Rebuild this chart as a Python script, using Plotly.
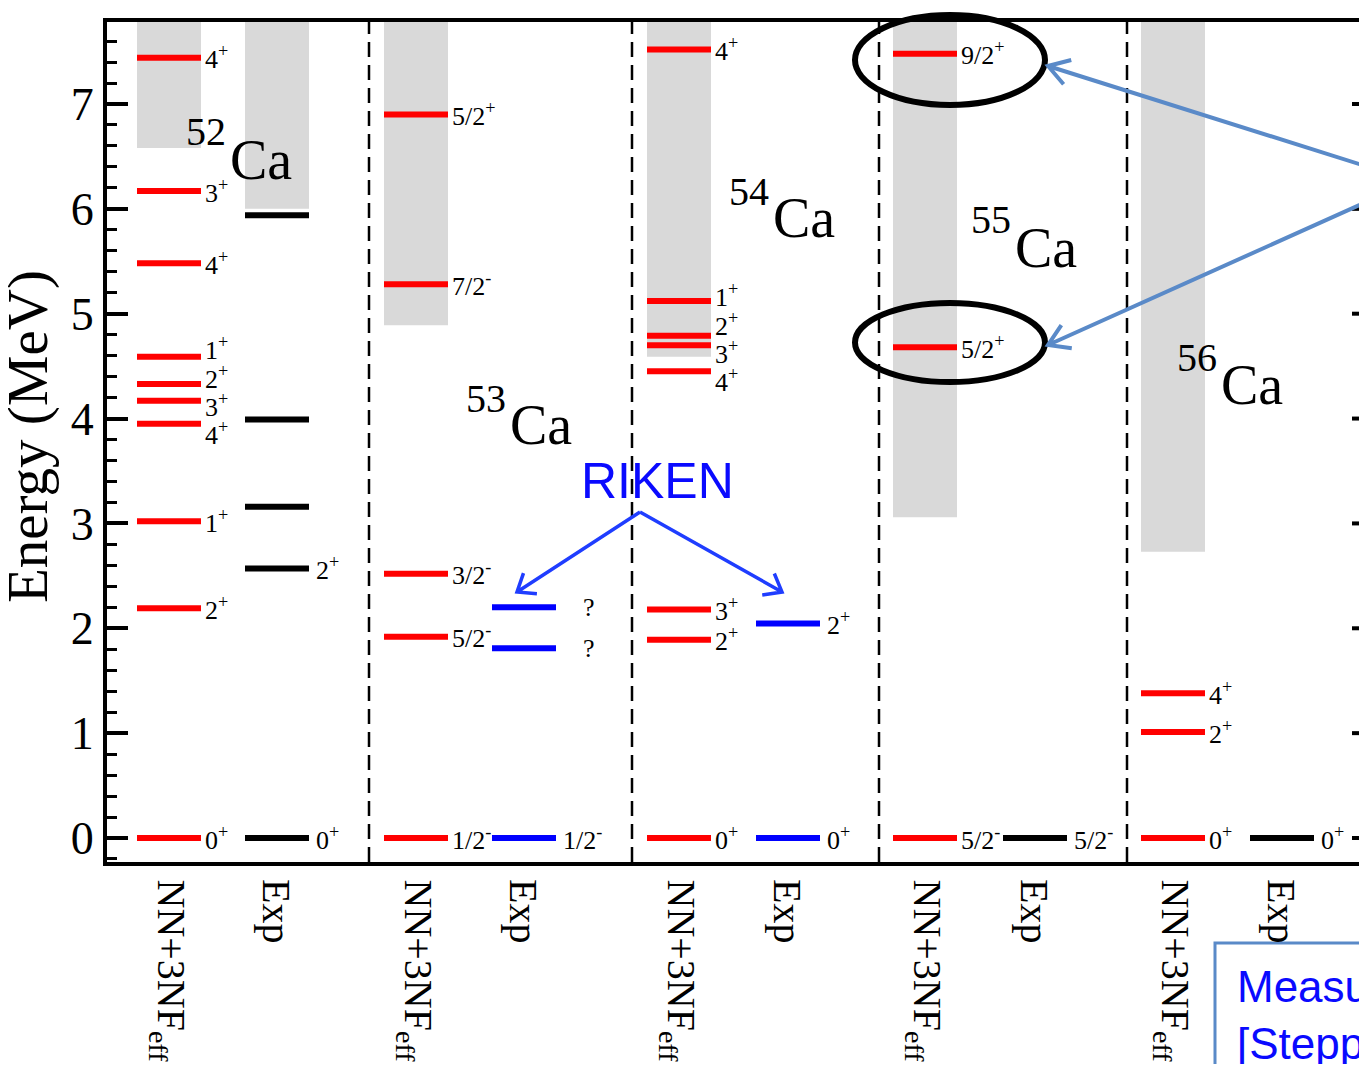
import math
import plotly.graph_objects as go

# ---------------- data (energies in MeV) ----------------
nuclei_A = [52, 53, 54, 55, 56]

th52_E = [0.0, 2.19, 3.02, 3.95, 4.17, 4.33, 4.59, 5.48, 6.17, 7.44]
th52_J = ["0+", "2+", "1+", "4+", "3+", "2+", "1+", "4+", "3+", "4+"]
ex52_E = [0.0, 2.57, 3.16, 3.99, 5.94]
ex52_J = ["0+", "2+", "", "", ""]

th53_E = [0.0, 1.92, 2.52, 5.28, 6.90]
th53_J = ["1/2-", "5/2-", "3/2-", "7/2-", "5/2+"]
ex53_E = [0.0, 1.81, 2.20]
ex53_J = ["1/2-", "?", "?"]

th54_E = [0.0, 1.89, 2.18, 4.45, 4.70, 4.79, 5.12, 7.52]
th54_J = ["0+", "2+", "3+", "4+", "3+", "2+", "1+", "4+"]
ex54_E = [0.0, 2.045]
ex54_J = ["0+", "2+"]

th55_E = [0.0, 4.68, 7.48]
th55_J = ["5/2-", "5/2+", "9/2+"]
ex55_E = [0.0]
ex55_J = ["5/2-"]

th56_E = [0.0, 1.01, 1.38]
th56_J = ["0+", "2+", "4+"]
ex56_E = [0.0]
ex56_J = ["0+"]

continuum_th = [6.58, 4.89, 4.59, 3.06, 2.73]
continuum_exp = [6.00, None, None, None, None]

column_labels = ["NN+3NF<sub>eff</sub>", "Exp"]
y_tick_vals = [0, 1, 2, 3, 4, 5, 6, 7]

theory_sets = [(th52_E, th52_J), (th53_E, th53_J), (th54_E, th54_J), (th55_E, th55_J), (th56_E, th56_J)]
exp_sets = [(ex52_E, ex52_J), (ex53_E, ex53_J), (ex54_E, ex54_J), (ex55_E, ex55_J), (ex56_E, ex56_J)]

# ---------------- layout constants (reference-pixel geometry) ----------------
OFF = 8                      # default body margin of the html page
W, H = 1351, 1056
PL, PT, PR, PB = 107, 22, 1359, 862
Y0_PX, PX_PER_MEV = 838, 104.86


def E_of(py):
    return (Y0_PX - py) / PX_PER_MEV


def paper_x(px):
    return (px - PL) / (PR - PL)


def paper_y(py):
    return (PB - py) / (PB - PT)


COL_W = 64
TH_LEFT = [137, 384, 647, 893, 1141]
EX_LEFT = [245, 492, 756, 1003, 1250]
SEPARATORS = [369, 632, 879, 1127]
TH_COLOR = "#ff0000"
EX_COLORS = ["black", "#0000ff", "#0000ff", "black", "black"]
SERIF = "Liberation Serif, Times New Roman, serif"
SANS = "Liberation Sans, Arial, sans-serif"
BLUE_TXT = "#0a0aff"
STEEL = "#5a8ac8"

fig = go.Figure()
shapes = []
annotations = []


def spread(values, min_gap):
    """place label positions so they do not overlap"""
    order = sorted(range(len(values)), key=lambda i: values[i])
    pos = [values[i] for i in order]
    for _ in range(300):
        moved = False
        for k in range(len(pos) - 1):
            g = pos[k + 1] - pos[k]
            if g < min_gap - 1e-9:
                d = (min_gap - g) / 2
                pos[k] -= d
                pos[k + 1] += d
                moved = True
        if not moved:
            break
    out = [0] * len(values)
    for k, i in enumerate(order):
        out[i] = pos[k]
    return out


def fmt_j(j):
    if j in ("", "?"):
        return j
    return j[:-1] + "<sup>" + j[-1] + "</sup>"


def add_column(left, energies, spins, color, gap, name):
    xs, ys = [], []
    for e in energies:
        xs += [left, left + COL_W, None]
        ys += [e, e, None]
    fig.add_trace(go.Scatter(x=xs, y=ys, mode="lines", line=dict(color=color, width=6),
                             hoverinfo="skip", showlegend=False, name=name))
    lab_y = spread(energies, 0.27)
    for e, j, ly in zip(energies, spins, lab_y):
        if not j:
            continue
        annotations.append(dict(x=left + COL_W, y=ly, xref="x", yref="y", text=fmt_j(j),
                                showarrow=False, xanchor="left", yanchor="middle",
                                xshift=gap + (20 if j == "?" else 0), borderpad=0,
                                font=dict(family=SERIF, size=26, color="black")))


for i, A in enumerate(nuclei_A):
    tl, el = TH_LEFT[i], EX_LEFT[i]
    # continuum bands
    shapes.append(dict(type="rect", xref="x", yref="y", x0=tl, x1=tl + COL_W,
                       y0=continuum_th[i], y1=9, fillcolor="#d9d9d9", line=dict(width=0), layer="below"))
    if continuum_exp[i] is not None:
        shapes.append(dict(type="rect", xref="x", yref="y", x0=el, x1=el + COL_W,
                           y0=continuum_exp[i], y1=9, fillcolor="#d9d9d9", line=dict(width=0), layer="below"))
    th_E, th_J = theory_sets[i]
    ex_E, ex_J = exp_sets[i]
    add_column(tl, th_E, th_J, TH_COLOR, 3, f"{A}Ca NN+3NF")
    add_column(el, ex_E, ex_J, EX_COLORS[i], 6, f"{A}Ca Exp")
    # column labels under the axis
    for left, lab in zip([tl, el], column_labels):
        annotations.append(dict(x=left + COL_W / 2, y=paper_y(877), xref="x", yref="paper",
                                text=lab, textangle=90, showarrow=False,
                                xanchor="center", yanchor="top",
                                font=dict(family=SERIF, size=40, color="black")))

# nucleus names: (junction x, mass y, symbol y) in reference px
name_pos = [(228, 131, 160), (508, 398, 425), (771, 191, 218), (1013, 219, 248), (1219, 357, 385)]
for A, (jx, my, cy) in zip(nuclei_A, name_pos):
    annotations.append(dict(x=jx, y=E_of(my), xref="x", yref="y", text=str(A), showarrow=False,
                            xanchor="right", yanchor="middle", font=dict(family=SERIF, size=40, color="black")))
    annotations.append(dict(x=jx, y=E_of(cy), xref="x", yref="y", text="Ca", showarrow=False,
                            xanchor="left", yanchor="middle", font=dict(family=SERIF, size=56, color="black")))

# dashed separators
for sx in SEPARATORS:
    shapes.append(dict(type="line", xref="x", yref="paper", x0=sx, x1=sx, y0=0, y1=1,
                       line=dict(color="black", width=2.5, dash="15px,8px")))

# right-hand inward ticks
for k in range(-1, 40):
    v = round(k * 0.2, 2)
    if v < E_of(PB) or v > E_of(PT):
        continue
    major = abs(v - round(v)) < 1e-6
    shapes.append(dict(type="line", xref="paper", yref="y",
                       x0=paper_x(1352 if major else 1362), x1=paper_x(1375), y0=v, y1=v,
                       line=dict(color="black", width=4 if major else 3)))


def arrow_path(x0, y0, x1, y1, head=20, ang=35):
    a = math.atan2(y0 - y1, x0 - x1)
    pts = []
    for s in (1, -1):
        t = a + s * math.radians(ang)
        pts.append((x1 + head * math.cos(t), y1 + head * math.sin(t)))
    f = lambda x, y: f"{paper_x(x):.5f},{paper_y(y):.5f}"
    return (f"M{f(x0, y0)} L{f(x1, y1)} M{f(*pts[0])} L{f(x1, y1)} L{f(*pts[1])}")


# RIKEN annotation and arrows
annotations.append(dict(x=paper_x(657), y=paper_y(481), xref="paper", yref="paper", text="RIKEN",
                        showarrow=False, xanchor="center", yanchor="middle",
                        font=dict(family=SANS, size=50, color=BLUE_TXT)))
for tip in [(517, 592), (782, 592)]:
    shapes.append(dict(type="path", xref="paper", yref="paper", path=arrow_path(640, 512, *tip, head=20, ang=38),
                       line=dict(color="#1f3dff", width=3.5)))

# ellipses around the 55Ca levels
for (x0, x1, y0, y1) in [(855, 1045, 15, 105), (855, 1045, 303, 382)]:
    shapes.append(dict(type="circle", xref="paper", yref="paper", x0=paper_x(x0), x1=paper_x(x1),
                       y0=paper_y(y1), y1=paper_y(y0), line=dict(color="black", width=6)))

# steel-blue arrows from the right
for tip in [(1048, 66), (1048, 345)]:
    shapes.append(dict(type="path", xref="paper", yref="paper", path=arrow_path(1413, 181, *tip, head=24, ang=32),
                       line=dict(color=STEEL, width=4)))

# boxed note (bottom right)
shapes.append(dict(type="rect", xref="paper", yref="paper", x0=paper_x(1215), x1=paper_x(1420),
                   y0=paper_y(1110), y1=paper_y(943), line=dict(color=STEEL, width=3), fillcolor="white"))
annotations.append(dict(x=paper_x(1235), y=paper_y(987), xref="paper", yref="paper", text="Measured",
                        showarrow=False, xanchor="left", yanchor="middle",
                        font=dict(family=SANS, size=44, color=BLUE_TXT)))
annotations.append(dict(x=paper_x(1235), y=paper_y(1043), xref="paper", yref="paper",
                        text="[Steppenbeck et al.]", showarrow=False, xanchor="left", yanchor="middle",
                        font=dict(family=SANS, size=44, color=BLUE_TXT)))

# y-axis title
annotations.append(dict(x=paper_x(28), y=paper_y(437), xref="paper", yref="paper", text="Energy (MeV)",
                        textangle=-90, showarrow=False, xanchor="center", yanchor="middle",
                        font=dict(family=SERIF, size=57, color="black")))

fig.update_layout(
    width=W, height=H,
    margin=dict(l=PL - OFF, r=0, t=PT - OFF, b=H - (PB - OFF)),
    paper_bgcolor="white", plot_bgcolor="white",
    shapes=shapes, annotations=annotations, showlegend=False,
    xaxis=dict(range=[PL, PR], showticklabels=False, ticks="", showgrid=False, zeroline=False,
               showline=True, mirror=True, linecolor="black", linewidth=4, fixedrange=True),
    yaxis=dict(range=[E_of(PB), E_of(PT)], tickvals=y_tick_vals, ticks="inside", ticklen=21, tickwidth=4,
               tickcolor="black", showgrid=False, zeroline=False, showline=True, mirror=False,
               linecolor="black", linewidth=4,
               tickfont=dict(family=SERIF, size=46, color="black"),
               minor=dict(dtick=0.2, ticks="inside", ticklen=10, tickwidth=3, tickcolor="black", showgrid=False),
               fixedrange=True),
)

fig.write_html("out.html")
